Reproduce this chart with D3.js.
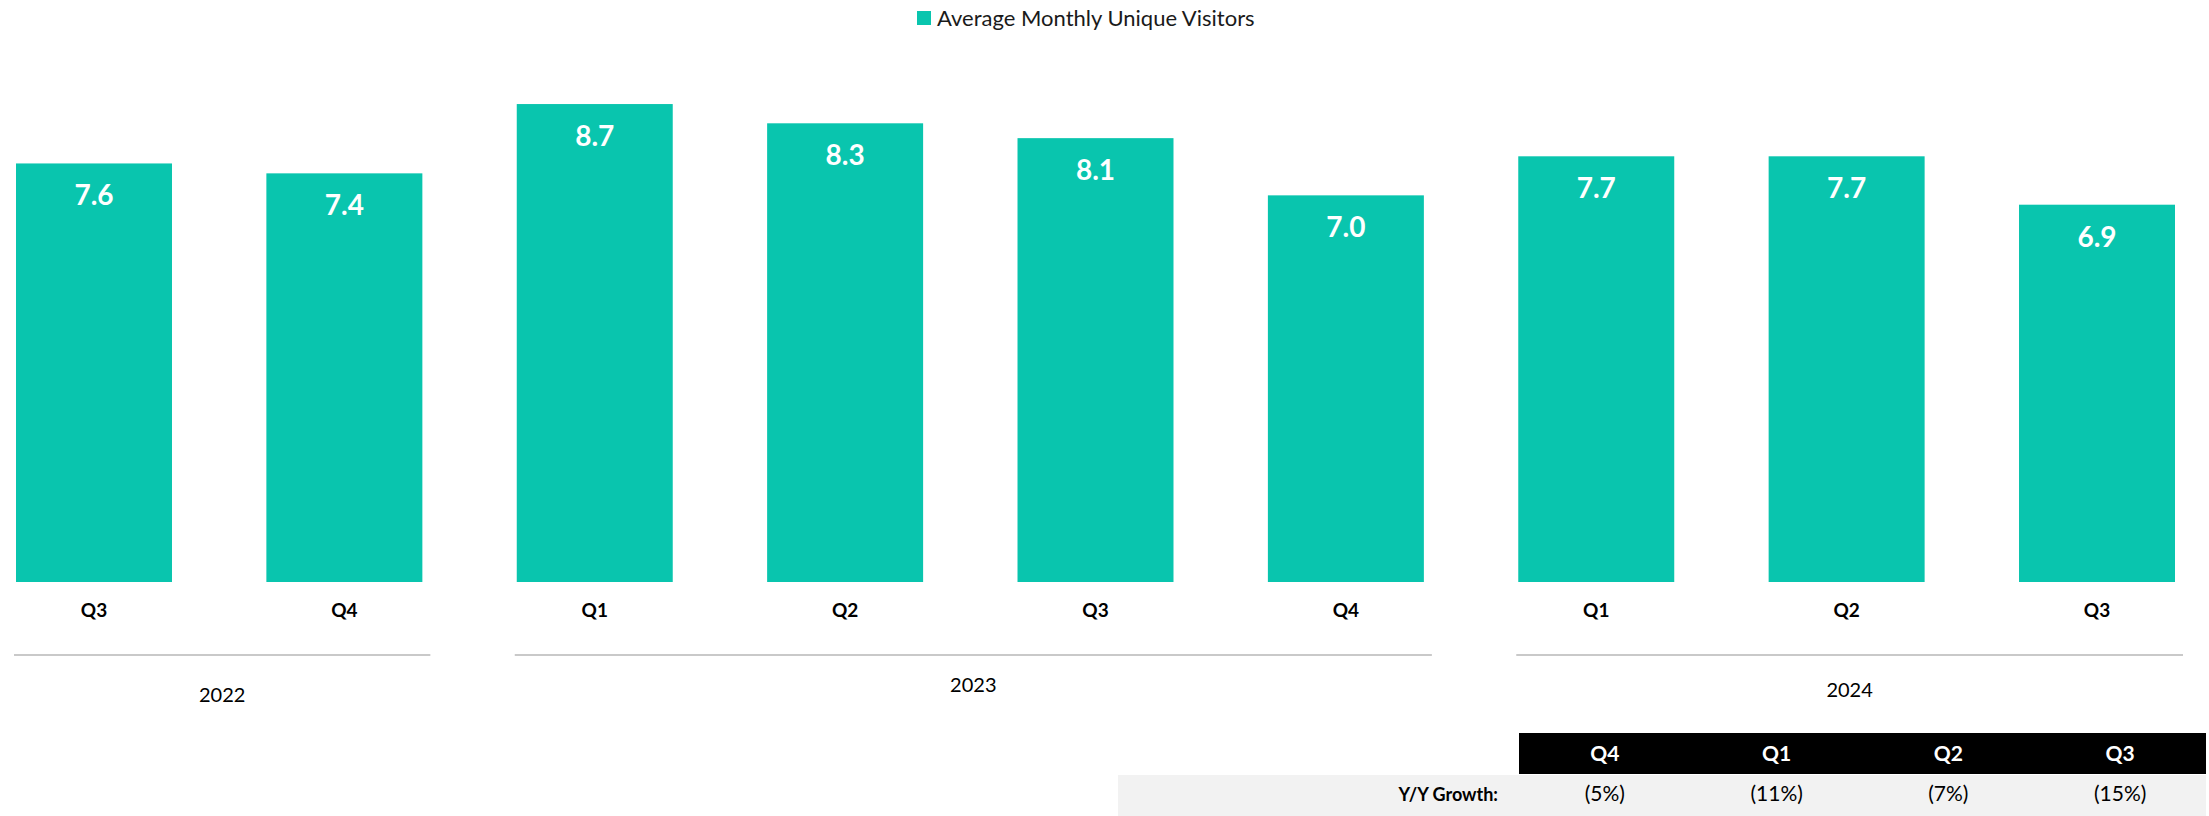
<!DOCTYPE html>
<html>
<head>
<meta charset="utf-8">
<script src="https://cdn.jsdelivr.net/npm/d3@7"></script>
<style>
body { margin: 0; background: #fff; }
svg { display: block; font-family: Lato, "Open Sans", sans-serif; }
</style>
</head>
<body>
<svg width="2209" height="816"></svg>
<script>
// data
var quarters = ["Q3", "Q4", "Q1", "Q2", "Q3", "Q4", "Q1", "Q2", "Q3"];
var years = ["2022", "2022", "2023", "2023", "2023", "2023", "2024", "2024", "2024"];
var visitors = [7.61, 7.43, 8.69, 8.34, 8.07, 7.03, 7.74, 7.74, 6.86];
var growthQuarters = ["Q4", "Q1", "Q2", "Q3"];
var growthLabels = ["(5%)", "(11%)", "(7%)", "(15%)"];
var seriesName = "Average Monthly Unique Visitors";

var teal = "#09c5ae";
var svg = d3.select("svg");

var keys = quarters.map(function(q, i) { return years[i] + " " + q; });
var data = keys.map(function(k, i) {
  return {key: k, q: quarters[i], year: years[i], val: visitors[i]};
});

var xScale = d3.scaleBand().domain(keys).range([16, 2175])
  .paddingInner(0.377).paddingOuter(0);
var yScale = d3.scaleLinear().domain([0, 10]).range([582, 32]);

// legend
var legend = svg.append("g").attr("transform", "translate(917,11)");
legend.append("rect").attr("width", 14).attr("height", 14).attr("fill", teal);
legend.append("text").attr("x", 20).attr("y", 14.5)
  .style("font-size", "22px").attr("fill", "#1a1a1a")
  .text(seriesName);

// bars
svg.selectAll(".bar")
  .data(data)
  .enter()
  .append("rect")
  .attr("class", "bar")
  .attr("x", function(d) { return xScale(d.key); })
  .attr("y", function(d) { return yScale(d.val); })
  .attr("width", xScale.bandwidth())
  .attr("height", function(d) { return yScale(0) - yScale(d.val); })
  .attr("fill", teal);

svg.selectAll(".val")
  .data(data)
  .enter()
  .append("text")
  .attr("class", "val")
  .attr("x", function(d) { return xScale(d.key) + xScale.bandwidth() / 2; })
  .attr("y", function(d) { return yScale(d.val) + 42; })
  .attr("text-anchor", "middle")
  .attr("fill", "#fff")
  .style("font-size", "28px")
  .style("font-weight", "bold")
  .text(function(d) { return d3.format(".1f")(d.val); });

// quarter axis
var axis = svg.append("g")
  .attr("transform", "translate(0," + yScale(0) + ")")
  .call(d3.axisBottom(xScale).tickSize(0).tickPadding(22)
    .tickFormat(function(k) { return k.split(" ")[1]; }));
axis.select(".domain").remove();
axis.selectAll("text")
  .attr("fill", "#000")
  .style("font-family", "Lato, sans-serif")
  .style("font-size", "19px")
  .style("font-weight", "bold");

// year groups
var yearDy = {"2022": 8, "2023": -2, "2024": 3};
var groups = d3.groups(data, function(d) { return d.year; });
var gYear = svg.selectAll(".year")
  .data(groups)
  .enter()
  .append("g")
  .attr("class", "year");
gYear.append("line")
  .attr("x1", function(g) { return xScale(g[1][0].key) - 2; })
  .attr("x2", function(g) { return xScale(g[1][g[1].length - 1].key) + xScale.bandwidth() + 8; })
  .attr("y1", 655).attr("y2", 655)
  .attr("stroke", "#c9c9c9").attr("stroke-width", 2);
gYear.append("text")
  .attr("x", function(g) {
    var a = xScale(g[1][0].key) - 2;
    var b = xScale(g[1][g[1].length - 1].key) + xScale.bandwidth() + 8;
    return (a + b) / 2;
  })
  .attr("y", function(g) { return 694 + yearDy[g[0]]; })
  .attr("text-anchor", "middle")
  .attr("fill", "#000")
  .style("font-size", "20px")
  .text(function(g) { return g[0]; });

// growth table
var tScale = d3.scaleBand().domain(growthQuarters).range([1519, 2206]);
svg.append("rect").attr("x", 1519).attr("y", 733)
  .attr("width", 2206 - 1519).attr("height", 41).attr("fill", "#000");
svg.append("rect").attr("x", 1118).attr("y", 775)
  .attr("width", 2206 - 1118).attr("height", 41).attr("fill", "#f2f2f2");

svg.selectAll(".thead")
  .data(growthQuarters)
  .enter()
  .append("text")
  .attr("class", "thead")
  .attr("x", function(d) { return tScale(d) + tScale.bandwidth() / 2; })
  .attr("y", 761)
  .attr("text-anchor", "middle")
  .attr("fill", "#fff")
  .style("font-size", "21px")
  .style("font-weight", "bold")
  .text(function(d) { return d; });

svg.append("text")
  .attr("x", 1498).attr("y", 801)
  .attr("text-anchor", "end")
  .attr("fill", "#000")
  .style("font-size", "18px")
  .style("font-weight", "bold")
  .text("Y/Y Growth:");

svg.selectAll(".tval")
  .data(growthLabels)
  .enter()
  .append("text")
  .attr("class", "tval")
  .attr("x", function(d, i) { return tScale(growthQuarters[i]) + tScale.bandwidth() / 2; })
  .attr("y", 801)
  .attr("text-anchor", "middle")
  .attr("fill", "#000")
  .style("font-size", "21px")
  .text(function(d) { return d; });
</script>
</body>
</html>
